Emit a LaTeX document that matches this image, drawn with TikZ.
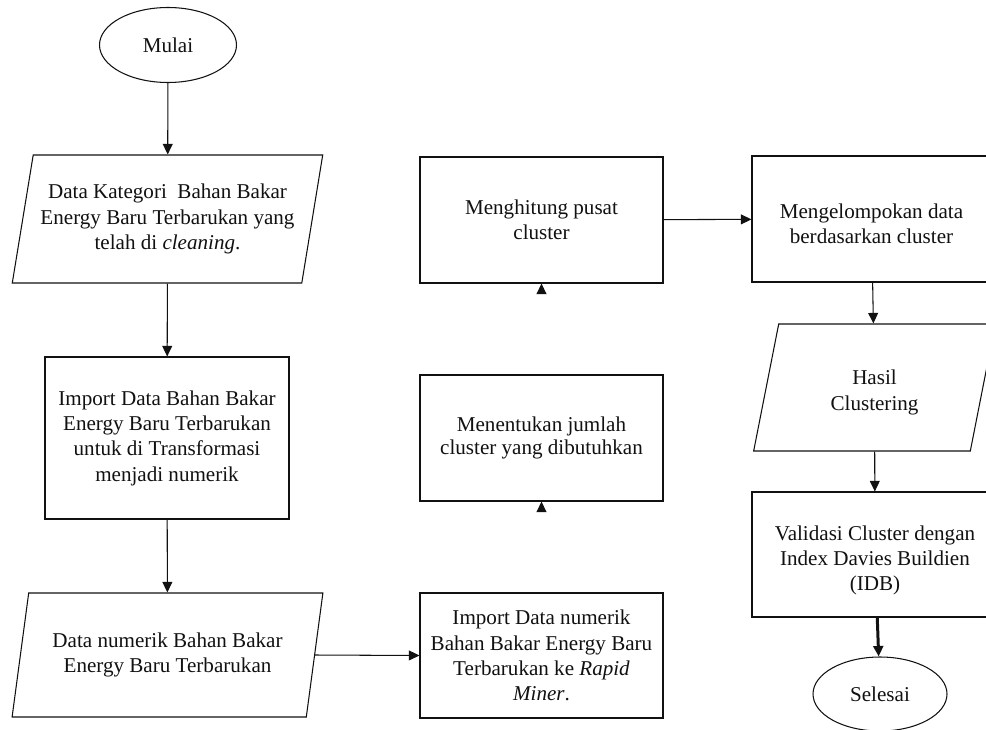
\documentclass[tikz,border=0pt]{standalone}
\usepackage{fontspec}
\setmainfont{Liberation Serif}
\usetikzlibrary{arrows.meta,positioning,shapes.geometric}
\definecolor{ink}{HTML}{111111}
\newcommand{\lowr}[1]{\rule{0pt}{#1}}
\tikzset{
  box/.style={draw=ink, fill=white, align=center, font=\fontsize{12}{14.4}\selectfont,
              inner sep=4pt, line width=0.6pt, text=ink},
  procbox/.style={box, rectangle, minimum width=4.86cm, minimum height=2.52cm},
  iobox/.style={box, trapezium, trapezium left angle=76, trapezium right angle=104,
                trapezium stretches=true, minimum height=2.56cm},
  termbox/.style={box, ellipse, minimum width=2.74cm, minimum height=1.50cm},
  ar/.style={-{Triangle[length=6pt,width=5.6pt]}, line width=0.6pt, draw=ink},
  arthick/.style={ar, line width=1.7pt},
  tiponly/.style={ar, shorten <=1.64cm}
}
\begin{document}
\begin{tikzpicture}[x=1cm,y=1cm]
  \useasboundingbox (0,0) rectangle (19.72,-14.58);

  % left column
  \node[termbox] (mulai) at (3.36,-0.90) {Mulai};
  \node[iobox, minimum width=6.22cm] (kat) at (3.35,-4.38)
      {Data Kategori\ \ Bahan Bakar\\Energy Baru Terbarukan yang\\telah di \textit{cleaning}.};
  \node[procbox, minimum width=4.88cm, minimum height=3.24cm] (imp) at (3.34,-8.76)
      {Import Data Bahan Bakar\\Energy Baru Terbarukan\\untuk di Transformasi\\menjadi numerik};
  \node[iobox, minimum width=6.22cm, minimum height=2.48cm] (num) at (3.35,-13.10)
      {Data numerik Bahan Bakar\\Energy Baru Terbarukan};

  % middle column
  \node[procbox, minimum height=2.50cm] (rm) at (10.83,-13.11)
      {Import Data numerik\\Bahan Bakar Energy Baru\\Terbarukan ke \textit{Rapid}\\\textit{Miner}.};
  \node[procbox, font=\fontsize{12}{13.4}\selectfont] (jml) at (10.83,-8.76)
      {Menentukan jumlah\\cluster yang dibutuhkan};
  \node[procbox] (pusat) at (10.83,-4.40) {Menghitung pusat\\cluster};

  % right column
  \node[procbox, minimum width=4.78cm] (grup) at (17.43,-4.38)
      {\lowr{14pt}Mengelompokan data\\berdasarkan cluster};
  \node[iobox, trapezium left angle=79, trapezium right angle=101,
        minimum width=4.86cm, minimum height=2.54cm] (hasil) at (17.49,-7.75)
      {\lowr{14pt}Hasil\\Clustering};
  \node[procbox, minimum width=4.92cm, minimum height=2.50cm] (valid) at (17.50,-11.09)
      {\lowr{15pt}Validasi Cluster dengan\\Index Davies Buildien\\(IDB)};
  \node[termbox, minimum width=2.68cm, minimum height=1.48cm] (selesai) at (17.60,-13.88)
      {Selesai};

  \draw[ar] (mulai) -- (kat);
  \draw[ar] (kat) -- (imp);
  \draw[ar] (imp) -- (num);
  \draw[ar] (num.east) -- (rm.west);
  \draw[tiponly] (rm) -- (jml);
  \draw[tiponly] (jml) -- (pusat);
  \draw[ar] (pusat) -- (grup);
  \draw[ar] (grup) -- (hasil);
  \draw[ar] (hasil) -- (valid);
  \draw[arthick] (valid) -- (selesai);
\end{tikzpicture}
\end{document}
